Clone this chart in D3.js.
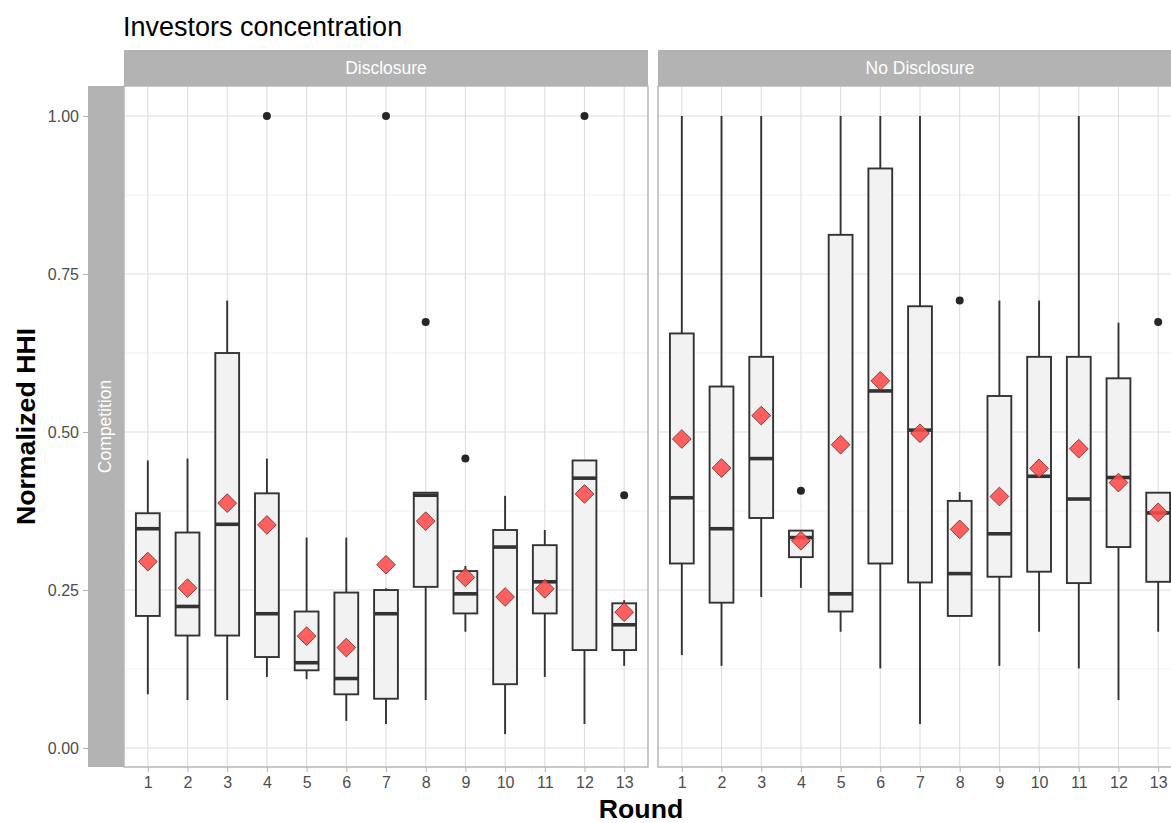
<!DOCTYPE html>
<html>
<head>
<meta charset="utf-8">
<script src="https://cdn.jsdelivr.net/npm/d3@7"></script>
<style>
    body { margin: 0; background: #fff; }
    svg { display: block; font-family: "Liberation Sans", Arial, sans-serif; }
</style>
</head>
<body>
<div id="chart"></div>
<script>
var rounds = ["1", "2", "3", "4", "5", "6", "7", "8", "9", "10", "11", "12", "13"];
var facets = ["Disclosure", "No Disclosure"];
var rowLabel = "Competition";
var yTicks = [0, 0.25, 0.5, 0.75, 1];
var yMinor = [0.125, 0.375, 0.625, 0.875];

// Disclosure: box stats per round
var discLower  = [0.085, 0.076, 0.076, 0.1125, 0.109, 0.043, 0.038, 0.076, 0.184, 0.022, 0.1125, 0.038, 0.13];
var discQ1     = [0.209, 0.178, 0.178, 0.144, 0.123, 0.085, 0.078, 0.255, 0.213, 0.101, 0.213, 0.155, 0.155];
var discMedian = [0.347, 0.224, 0.354, 0.2125, 0.135, 0.110, 0.2125, 0.400, 0.244, 0.318, 0.263, 0.427, 0.195];
var discQ3     = [0.3715, 0.341, 0.625, 0.403, 0.216, 0.246, 0.25, 0.404, 0.28, 0.345, 0.321, 0.455, 0.229];
var discUpper  = [0.455, 0.458, 0.708, 0.458, 0.333, 0.333, 0.253, 0.404, 0.288, 0.399, 0.345, 0.455, 0.234];
var discMean   = [0.295, 0.253, 0.3875, 0.353, 0.177, 0.159, 0.29, 0.359, 0.27, 0.239, 0.252, 0.402, 0.215];
var discOut    = [[], [], [], [1], [], [], [1], [0.674], [0.458], [], [], [1], [0.4]];

// No Disclosure
var noLower  = [0.147, 0.13, 0.239, 0.2535, 0.184, 0.126, 0.038, 0.209, 0.13, 0.184, 0.126, 0.076, 0.184];
var noQ1     = [0.292, 0.230, 0.364, 0.302, 0.216, 0.292, 0.262, 0.209, 0.271, 0.279, 0.261, 0.318, 0.263];
var noMedian = [0.396, 0.347, 0.458, 0.333, 0.244, 0.565, 0.503, 0.276, 0.339, 0.43, 0.394, 0.428, 0.372];
var noQ3     = [0.656, 0.572, 0.619, 0.344, 0.812, 0.917, 0.699, 0.391, 0.557, 0.619, 0.619, 0.585, 0.404];
var noUpper  = [1, 1, 1, 0.344, 1, 1, 1, 0.405, 0.708, 0.708, 1, 0.673, 0.404];
var noMean   = [0.489, 0.443, 0.526, 0.328, 0.48, 0.581, 0.498, 0.346, 0.398, 0.4425, 0.4736, 0.42, 0.373];
var noOut    = [[], [], [], [0.407], [], [], [], [0.708], [], [], [], [], [0.674]];

function buildRows(lower, q1, median, q3, upper, mean, out) {
    return rounds.map(function (r, i) {
        return {round: r, lower: lower[i], q1: q1[i], median: median[i], q3: q3[i],
                upper: upper[i], mean: mean[i], out: out[i]};
    });
}

var panelData = [
    buildRows(discLower, discQ1, discMedian, discQ3, discUpper, discMean, discOut),
    buildRows(noLower, noQ1, noMedian, noQ3, noUpper, noMean, noOut)
];

var W = 1171, H = 823;
var panelTop = 86, panelBottom = 767;
var panelW = 524;
var panelLeft = [124, 658];
var stripH = 36;

var svg = d3.select("#chart").append("svg")
    .attr("width", W)
    .attr("height", H);

svg.append("rect").attr("width", W).attr("height", H).attr("fill", "#fff");

var y = d3.scaleLinear()
    .domain([-0.03, 1.0475])
    .range([panelBottom, panelTop]);

var x = d3.scalePoint()
    .domain(rounds)
    .range([0, panelW])
    .padding(0.6);

var boxW = x.step() * 0.6;

/* title */
svg.append("text")
    .attr("x", 123)
    .attr("y", 36)
    .style("font-size", "27px")
    .attr("fill", "#000")
    .text("Investors concentration");

/* left strip (row label) */
svg.append("rect")
    .attr("x", 88).attr("y", panelTop)
    .attr("width", panelLeft[0] - 88).attr("height", panelBottom - panelTop)
    .attr("fill", "#b3b3b3");

svg.append("text")
    .attr("transform", "translate(" + 111 + "," + ((panelTop + panelBottom) / 2) + ") rotate(-90)")
    .attr("text-anchor", "middle")
    .style("font-size", "17.5px")
    .attr("fill", "#fff")
    .text(rowLabel);

/* y axis */
var yAxis = svg.append("g")
    .attr("transform", "translate(" + 88 + ",0)")
    .call(d3.axisLeft(y).tickValues(yTicks).tickFormat(d3.format(".2f")).tickSize(5).tickPadding(4));
yAxis.select(".domain").remove();
yAxis.selectAll("line").attr("stroke", "#b3b3b3");
yAxis.selectAll("text").style("font-size", "16px").attr("fill", "#4d4d4d")
    .style("font-family", "'Liberation Sans', Arial, sans-serif");

svg.append("text")
    .attr("transform", "translate(" + 35 + "," + ((panelTop + panelBottom) / 2) + ") rotate(-90)")
    .attr("text-anchor", "middle")
    .style("font-size", "26.7px")
    .style("font-weight", "bold")
    .text("Normalized HHI");

svg.append("text")
    .attr("x", (panelLeft[0] + panelLeft[1] + panelW) / 2 - 12)
    .attr("y", 818)
    .attr("text-anchor", "middle")
    .style("font-size", "26.7px")
    .style("font-weight", "bold")
    .text("Round");

var diamond = d3.symbol().type(d3.symbolSquare).size(175);

panelData.forEach(function (rows, p) {
    var g = svg.append("g")
        .attr("transform", "translate(" + panelLeft[p] + ",0)");

    /* strip */
    g.append("rect")
        .attr("x", 0).attr("y", panelTop - stripH)
        .attr("width", panelW).attr("height", stripH)
        .attr("fill", "#b3b3b3");
    g.append("text")
        .attr("x", panelW / 2)
        .attr("y", panelTop - stripH / 2)
        .attr("dy", "0.36em")
        .attr("text-anchor", "middle")
        .style("font-size", "17.5px")
        .attr("fill", "#fff")
        .text(facets[p]);

    /* grid */
    g.selectAll(".minor").data(yMinor).enter().append("line")
        .attr("x1", 0).attr("x2", panelW)
        .attr("y1", function (d) { return y(d); })
        .attr("y2", function (d) { return y(d); })
        .attr("stroke", "#ececec").attr("stroke-width", 0.7);
    g.selectAll(".major").data(yTicks).enter().append("line")
        .attr("x1", 0).attr("x2", panelW)
        .attr("y1", function (d) { return y(d); })
        .attr("y2", function (d) { return y(d); })
        .attr("stroke", "#dedede").attr("stroke-width", 1.1);
    g.selectAll(".vgrid").data(rounds).enter().append("line")
        .attr("x1", function (d) { return x(d); })
        .attr("x2", function (d) { return x(d); })
        .attr("y1", panelTop).attr("y2", panelBottom)
        .attr("stroke", "#dedede").attr("stroke-width", 1.1);

    var box = g.selectAll(".box").data(rows).enter().append("g")
        .attr("transform", function (d) { return "translate(" + x(d.round) + ",0)"; });

    // whiskers
    box.append("line")
        .attr("y1", function (d) { return y(d.q3); })
        .attr("y2", function (d) { return y(d.upper); })
        .attr("stroke", "#333").attr("stroke-width", 1.9);
    box.append("line")
        .attr("y1", function (d) { return y(d.q1); })
        .attr("y2", function (d) { return y(d.lower); })
        .attr("stroke", "#333").attr("stroke-width", 1.9);

    box.append("rect")
        .attr("x", -boxW / 2)
        .attr("width", boxW)
        .attr("y", function (d) { return y(d.q3); })
        .attr("height", function (d) { return y(d.q1) - y(d.q3); })
        .attr("fill", "#f2f2f2")
        .attr("stroke", "#333").attr("stroke-width", 1.9);

    box.append("line")
        .attr("x1", -boxW / 2).attr("x2", boxW / 2)
        .attr("y1", function (d) { return y(d.median); })
        .attr("y2", function (d) { return y(d.median); })
        .attr("stroke", "#333").attr("stroke-width", 3.6);

    box.selectAll(".out").data(function (d) { return d.out; }).enter().append("circle")
        .attr("r", 4)
        .attr("cy", function (d) { return y(d); })
        .attr("fill", "#262626");

    box.append("path")
        .attr("d", diamond)
        .attr("transform", function (d) { return "translate(0," + y(d.mean) + ") rotate(45)"; })
        .attr("fill", "#ff4b4b").attr("fill-opacity", 0.88)
        .attr("stroke", "#7a2a2a").attr("stroke-width", 0.8);

    /* panel border */
    g.append("rect")
        .attr("x", 0).attr("y", panelTop)
        .attr("width", panelW).attr("height", panelBottom - panelTop)
        .attr("fill", "none")
        .attr("stroke", "#b3b3b3").attr("stroke-width", 1.4);

    /* x axis */
    var xAxis = g.append("g")
        .attr("transform", "translate(0," + panelBottom + ")")
        .call(d3.axisBottom(x).tickSize(5).tickPadding(5));
    xAxis.select(".domain").remove();
    xAxis.selectAll("line").attr("stroke", "#b3b3b3");
    xAxis.selectAll("text").style("font-size", "16px").attr("fill", "#4d4d4d")
        .style("font-family", "'Liberation Sans', Arial, sans-serif");
});
</script>
</body>
</html>
